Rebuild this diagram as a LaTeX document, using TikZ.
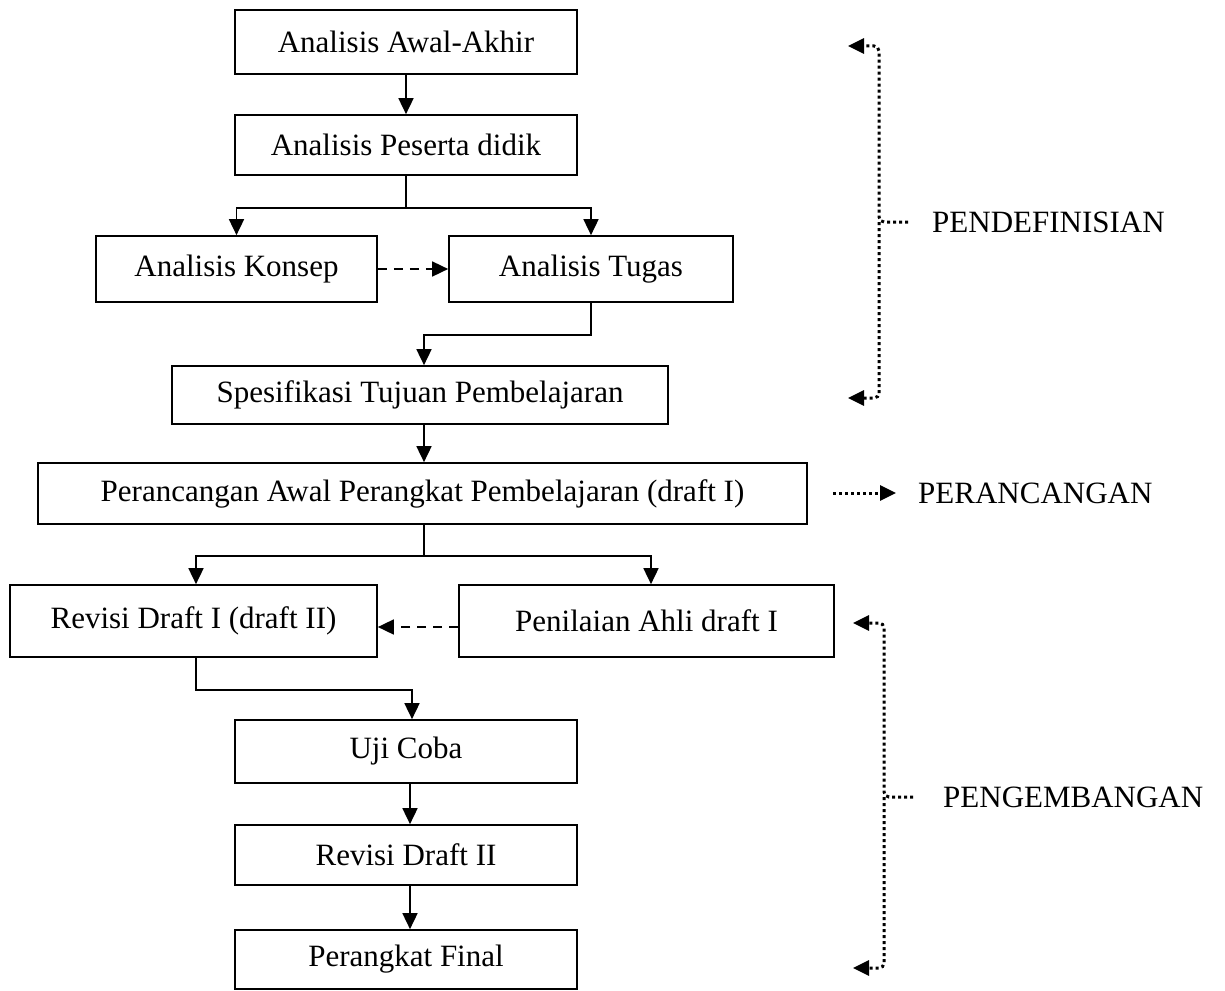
\documentclass[tikz,border=0pt]{standalone}
\usepackage{fontspec}
\setmainfont{Liberation Serif}
\usetikzlibrary{arrows.meta,calc}
\begin{document}
\begin{tikzpicture}[x=1pt,y=-1pt,
  box/.style={draw, line width=1.7pt, inner sep=0pt, font=\fontsize{31}{36}\selectfont},
  lab/.style={anchor=west, inner sep=0pt, font=\fontsize{31}{36}\selectfont},
  arr/.style={line width=1.7pt, -{Triangle[length=16pt,width=15pt]}},
  dasharr/.style={line width=1.7pt, dash pattern=on 9pt off 7pt, -{Triangle[length=16pt,width=15pt]}},
  dotarr/.style={line width=3pt, dash pattern=on 3pt off 3pt, -{Triangle[length=16pt,width=15pt]}}]
\useasboundingbox (0,0) rectangle (1225,990);
% boxes
\node[box, minimum width=342, minimum height=64] (n1) at (406,42) {Analisis Awal-Akhir};
\node[box, minimum width=342, minimum height=60] (n2) at (406,145) {Analisis Peserta didik};
\node[box, minimum width=281, minimum height=66] (n3) at (236.5,269) {Analisis Konsep};
\node[box, minimum width=284, minimum height=66] (n4) at (591,269) {Analisis Tugas};
\node[box, minimum width=496, minimum height=58] (n5) at (420,395) {Spesifikasi Tujuan Pembelajaran};
\node[box, minimum width=769, minimum height=61] (n6) at (422.5,493.5) {Perancangan Awal Perangkat Pembelajaran (draft I)};
\node[box, minimum width=367, minimum height=72] (n7) at (193.5,621) {Revisi Draft I (draft II)};
\node[box, minimum width=375, minimum height=72] (n8) at (646.5,621) {Penilaian Ahli draft I};
\node[box, minimum width=342, minimum height=63] (n9) at (406,751.5) {Uji Coba};
\node[box, minimum width=342, minimum height=60] (n10) at (406,855) {Revisi Draft II};
\node[box, minimum width=342, minimum height=59] (n11) at (406,959.5) {Perangkat Final};
% connectors
\draw[arr] (n1.south) -- (n2.north);
\draw[arr] (n2.south) -- ++(0,32) -| (n3.north);
\draw[arr] (n2.south) -- ++(0,32) -| (n4.north);
\draw[dasharr] (n3.east) -- (n4.west);
\draw[arr] (n4.south) -- ++(0,32) -| ($(n5.north)+(4,0)$);
\draw[arr] ($(n5.south)+(4,0)$) -- ($(n6.north)+(1.5,0)$);
\draw[arr] ($(n6.south)+(1.5,0)$) -- ++(0,31) -| ($(n7.north)+(2.5,0)$);
\draw[arr] ($(n6.south)+(1.5,0)$) -- ++(0,31) -| ($(n8.north)+(4.5,0)$);
\draw[dasharr] ($(n8.west)+(0,6)$) -- ($(n7.east)+(0,6)$);
\draw[arr] ($(n7.south)+(2.5,0)$) -- ++(0,32) -| ($(n9.north)+(6,0)$);
\draw[arr] ($(n9.south)+(4,0)$) -- ($(n10.north)+(4,0)$);
\draw[arr] ($(n10.south)+(4,0)$) -- ($(n11.north)+(4,0)$);
% right side labels
\node[lab] (l1) at (932,222) {PENDEFINISIAN};
\node[lab] (l2) at (918,493) {PERANCANGAN};
\node[lab] (l3) at (943,797) {PENGEMBANGAN};
% bracket 1
\coordinate (t1) at (848,46);
\coordinate (b1) at (848,398);
\coordinate (m1) at (879,222);
\draw[dotarr, rounded corners=5] ($(l1.west)+(-24,0)$) -- (m1) -- (879,46) -- (t1);
\draw[dotarr, rounded corners=5] (m1) -- (879,398) -- (b1);
% perancangan arrow
\coordinate (p0) at (833,493);
\draw[dotarr] (p0) -- ($(l2.west)+(-22,0)$);
% bracket 2
\coordinate (t2) at (853,623);
\coordinate (b2) at (853,968);
\coordinate (m2) at (884,797);
\draw[dotarr, rounded corners=5] ($(l3.west)+(-30,0)$) -- (m2) -- (884,623) -- (t2);
\draw[dotarr, rounded corners=5] (m2) -- (884,968) -- (b2);
\end{tikzpicture}
\end{document}
